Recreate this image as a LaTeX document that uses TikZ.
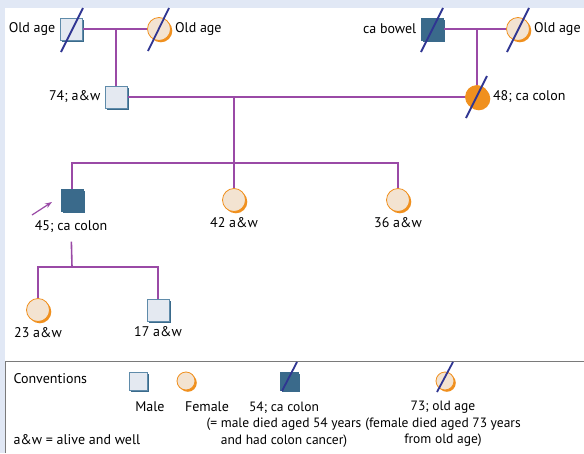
\documentclass[tikz,border=0pt]{standalone}
\usepackage{fontspec}
\setmainfont{PT Sans}
\usetikzlibrary{shadows,arrows.meta}
\definecolor{bgblue}{HTML}{E1E8F5}
\definecolor{malefill}{HTML}{E4E9F1}
\definecolor{sqedge}{HTML}{5F8BAA}
\definecolor{sqdark}{HTML}{3A6A8B}
\definecolor{femfill}{HTML}{F3E3D1}
\definecolor{femorange}{HTML}{F0901E}
\definecolor{slashblue}{HTML}{2F3592}
\definecolor{kinpurple}{HTML}{9A4AA6}
\definecolor{rulegray}{HTML}{7A7A7A}
\begin{document}
\begin{tikzpicture}[x=1pt,y=-1pt,font=\fontsize{14}{16.5}\selectfont,
  male/.style={rectangle,minimum size=22pt,inner sep=0pt,draw=sqedge,line width=1pt,fill=malefill,
    general shadow={shadow xshift=2.2pt,shadow yshift=-2.2pt,fill=sqdark}},
  affmale/.style={male,fill=sqdark,draw=sqdark},
  female/.style={circle,minimum size=23pt,inner sep=0pt,draw=femorange,line width=0.8pt,fill=femfill,
    general shadow={shadow xshift=1.8pt,shadow yshift=-1.8pt,fill=femorange}},
  afffemale/.style={female,fill=femorange},
  small/.style={minimum size=18pt},
  lab/.style={inner sep=2pt,label distance=2pt},
  legtext/.style={anchor=north,align=center,font=\fontsize{13.5}{16.5}\selectfont},
  kin/.style={draw=kinpurple,line width=1.6pt},
  slash/.style={draw=slashblue,line width=1.8pt},
  pointer/.style={draw=kinpurple,line width=1.2pt,-{Stealth[length=7pt,width=5pt]}},
  rule/.style={draw=rulegray,line width=1pt}]

\useasboundingbox (0,0) rectangle (584,453);
\fill[bgblue] (0,0) rectangle (584,453);
\fill[white] (5,8) rectangle (584,453);
\draw[rule] (5,453) -- (5,361) -- (584,361);

\node[male,label={[lab]left:Old age}] (pgf) at (71,29) {};
\node[female,label={[lab]right:Old age}] (pgm) at (159,29) {};
\node[affmale,label={[lab]left:ca bowel}] (mgf) at (432,29) {};
\node[female,label={[lab]right:Old age}] (mgm) at (518,29) {};

\node[male,label={[lab]left:{74; a\&w}}] (fa) at (116,97) {};
\node[afffemale,label={[lab]right:{48; ca colon}}] (mo) at (477,97) {};

\node[affmale] (pro) at (72,200) {};
\node (proL) at (71,227) {45; ca colon};
\node[female,label={[lab,label distance=3pt]below:{42 a\&w}}] (d42) at (234,200) {};
\node[female,label={[lab,label distance=3pt]below:{36 a\&w}}] (d36) at (398,200) {};

\node[female,label={[lab,label distance=3pt]below:{23 a\&w}}] (gd23) at (38,310) {};
\node[male,label={[lab,label distance=3pt]below:{17 a\&w}}] (gs17) at (158,310) {};

\coordinate (pm) at (116,29);
\coordinate (mm) at (477,29);
\coordinate (fm) at (234,97);
\coordinate (sib) at (234,163);
\coordinate (pk) at (72,267);

\draw[kin] (pgf) -- (pgm);
\draw[kin] (mgf) -- (mgm);
\draw[kin] (pm) -- (fa);
\draw[kin] (mm) -- (mo);
\draw[kin] (fa) -- (mo);
\draw[kin] (fm) -- (sib);
\draw[kin] (pro) |- (sib) -| (d36);
\draw[kin] (sib) -- (d42);
\draw[kin,shorten <=5pt] (proL) -- (pk);
\draw[kin] (gd23) |- (pk) -| (gs17);

\draw[slash] (pgf) ++(-10,23) -- ++(22,-44);
\draw[slash] (pgm) ++(-11,22) -- ++(21,-43);
\draw[slash] (mgf) ++(-11,23) -- ++(22,-44);
\draw[slash] (mgm) ++(-11,23) -- ++(22,-44);
\draw[slash] (mo) ++(-11,21) -- ++(21,-42);

\coordinate (arrS) at (32,215);
\coordinate (arrE) at (52,202);
\draw[pointer] (arrS) -- (arrE);

\node[anchor=west] (conv) at (10,379) {Conventions};
\node[male,small] (lmale) at (138,381) {};
\node[female,small] (lfemale) at (186,381) {};
\node[affmale,small] (ldm) at (289,381) {};
\node[female,small] (ldf) at (445,381) {};
\draw[slash] (ldm) ++(-7,10) -- ++(15,-29);
\draw[slash] (ldf) ++(-8,11) -- ++(16,-30);

\node (lmaleL) at (150,407) {Male};
\node (lfemaleL) at (207,407) {Female};
\node[legtext] (ldmL) at (284,398) {54; ca colon\\(= male died aged 54 years\\and had colon cancer)};
\node[legtext] (ldfL) at (443,398) {73; old age\\(female died aged 73 years\\from old age)};
\node[anchor=west] (awL) at (10,440) {a\&w = alive and well};
\end{tikzpicture}
\end{document}
